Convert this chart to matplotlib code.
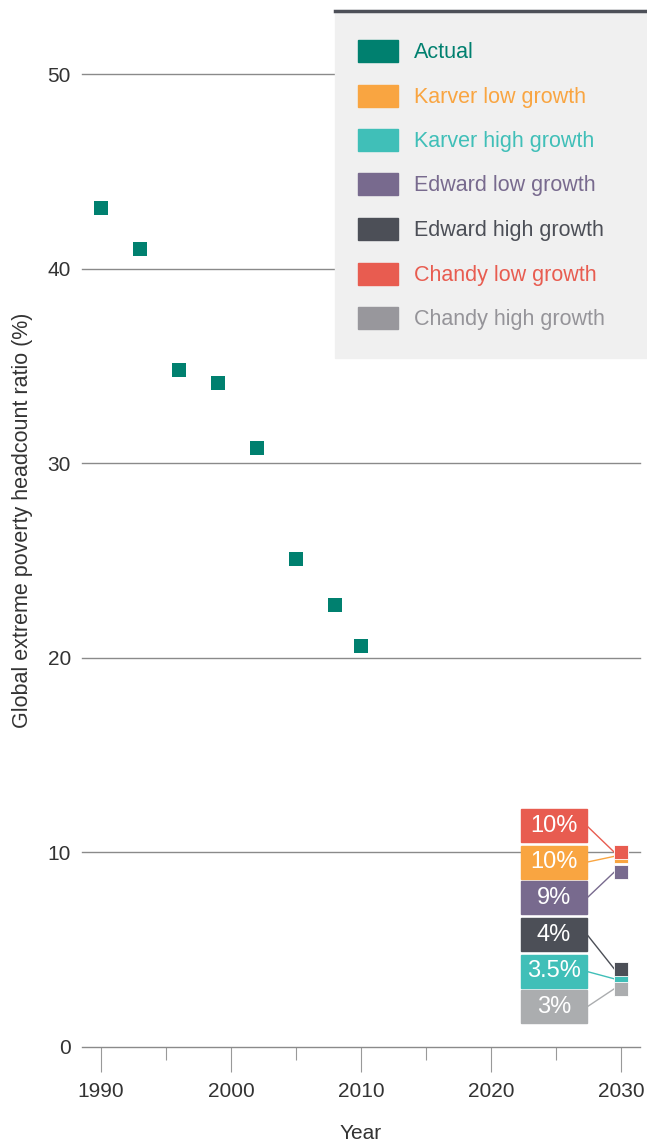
import matplotlib.pyplot as plt
from matplotlib.patches import Rectangle
from matplotlib.lines import Line2D

plt.rcParams['font.family'] = ['Liberation Sans Narrow', 'Liberation Sans', 'DejaVu Sans']

# data
years = [1990, 1993, 1996, 1999, 2002, 2005, 2008, 2010]
actual = [43.1, 41.0, 34.8, 34.1, 30.8, 25.1, 22.7, 20.6]

proj_year = 2030
proj_names = ["Karver low growth", "Karver high growth", "Edward low growth",
              "Edward high growth", "Chandy low growth", "Chandy high growth"]
proj_values = [9.8, 3.5, 9.0, 4.0, 10.0, 3.0]
proj_labels = ["10%", "3.5%", "9%", "4%", "10%", "3%"]

legend_names = ["Actual", "Karver low growth", "Karver high growth", "Edward low growth",
                "Edward high growth", "Chandy low growth", "Chandy high growth"]

colors = {
    "Actual": "#00806f",
    "Karver low growth": "#f9a541",
    "Karver high growth": "#40bfb8",
    "Edward low growth": "#786a8e",
    "Edward high growth": "#4c4f57",
    "Chandy low growth": "#e85c50",
    "Chandy high growth": "#abadaf",
}
legend_text_colors = dict(colors)
legend_text_colors["Chandy high growth"] = "#959499"
legend_patch_colors = dict(colors)
legend_patch_colors["Chandy high growth"] = "#98979c"

# label box centre (y, in data units) for each projection
box_y = {
    "Chandy low growth": 11.36,
    "Karver low growth": 9.5,
    "Edward low growth": 7.66,
    "Edward high growth": 5.78,
    "Karver high growth": 3.88,
    "Chandy high growth": 2.06,
}

W, H = 647, 1142
fig = plt.figure(figsize=(W / 100, H / 100), dpi=100)
ax = fig.add_axes([82 / W, 1 - 1047 / H, (640 - 82) / W, (1047 - 10) / H])

x0 = 1990 + (82 - 101) / 13
x1 = 1990 + (640 - 101) / 13
ax.set_xlim(x0, x1)
ax.set_ylim(0, (1047 - 10) / 19.46)

for s in ax.spines.values():
    s.set_visible(False)

ax.set_yticks([0, 10, 20, 30, 40, 50])
ax.grid(axis='y', color='#8a8a8a', lw=1)
for gl in ax.get_ygridlines():
    gl.set_clip_on(False)
ax.set_axisbelow(True)
ax.tick_params(axis='y', length=0, labelsize=15, pad=8, labelcolor='#333333')

ax.set_xticks([1990, 2000, 2010, 2020, 2030])
ax.set_xticks([1995, 2005, 2015, 2025], minor=True)
ax.tick_params(axis='x', which='major', length=18, width=0.8, color='#999999',
               labelsize=15, pad=7, labelcolor='#333333')
ax.tick_params(axis='x', which='minor', length=9, width=0.8, color='#999999')

ax.set_xlabel("Year", fontsize=15, color='#333333', labelpad=17)
ax.set_ylabel("Global extreme poverty headcount ratio (%)", fontsize=15.5,
              color='#333333')
ax.yaxis.set_label_coords(-0.088, 0.508)

ax.scatter(years, actual, marker='s', s=90, color=colors["Actual"], zorder=3, lw=0)

# projections with label boxes
bw = 66 / 13
bh = 33 / 19.46
bx = 1990 + (521 - 101) / 13
for name, val, lab in zip(proj_names, proj_values, proj_labels):
    c = colors[name]
    ax.scatter([proj_year], [val], marker='s', s=100, color=c,
               edgecolor='white', lw=0.6, zorder=4)
    yb = box_y[name]
    ax.add_patch(Rectangle((bx, yb - bh / 2), bw, bh, color=c, zorder=3, clip_on=False))
    ax.text(bx + bw / 2, yb, lab, color='white', fontsize=17, ha='center',
            va='center', zorder=4)
    ax.plot([bx + bw, proj_year - 0.5], [yb, val], color=c, lw=1, zorder=2)

# legend panel
lx0, ly0, lx1, ly1 = 335, 10, 647, 358
fig.patches.append(Rectangle((lx0 / W, 1 - ly1 / H), (lx1 - lx0) / W, (ly1 - ly0) / H,
                             transform=fig.transFigure, color='#f0f0f0', zorder=5))
fig.lines.append(Line2D([lx0 / W, lx1 / W], [1 - 11 / H, 1 - 11 / H],
                        transform=fig.transFigure, color='#4d5058', lw=2.5, zorder=6))
for i, name in enumerate(legend_names):
    yc = 51 + i * 44.5
    fig.patches.append(Rectangle((358 / W, 1 - (yc + 11) / H), 40 / W, 22 / H,
                                 transform=fig.transFigure, color=legend_patch_colors[name],
                                 zorder=6))
    fig.text(414 / W, 1 - (yc + 1.5) / H, name, color=legend_text_colors[name],
             fontsize=15.5, va='center', ha='left', zorder=7)

fig.savefig("out.png", dpi=100)
